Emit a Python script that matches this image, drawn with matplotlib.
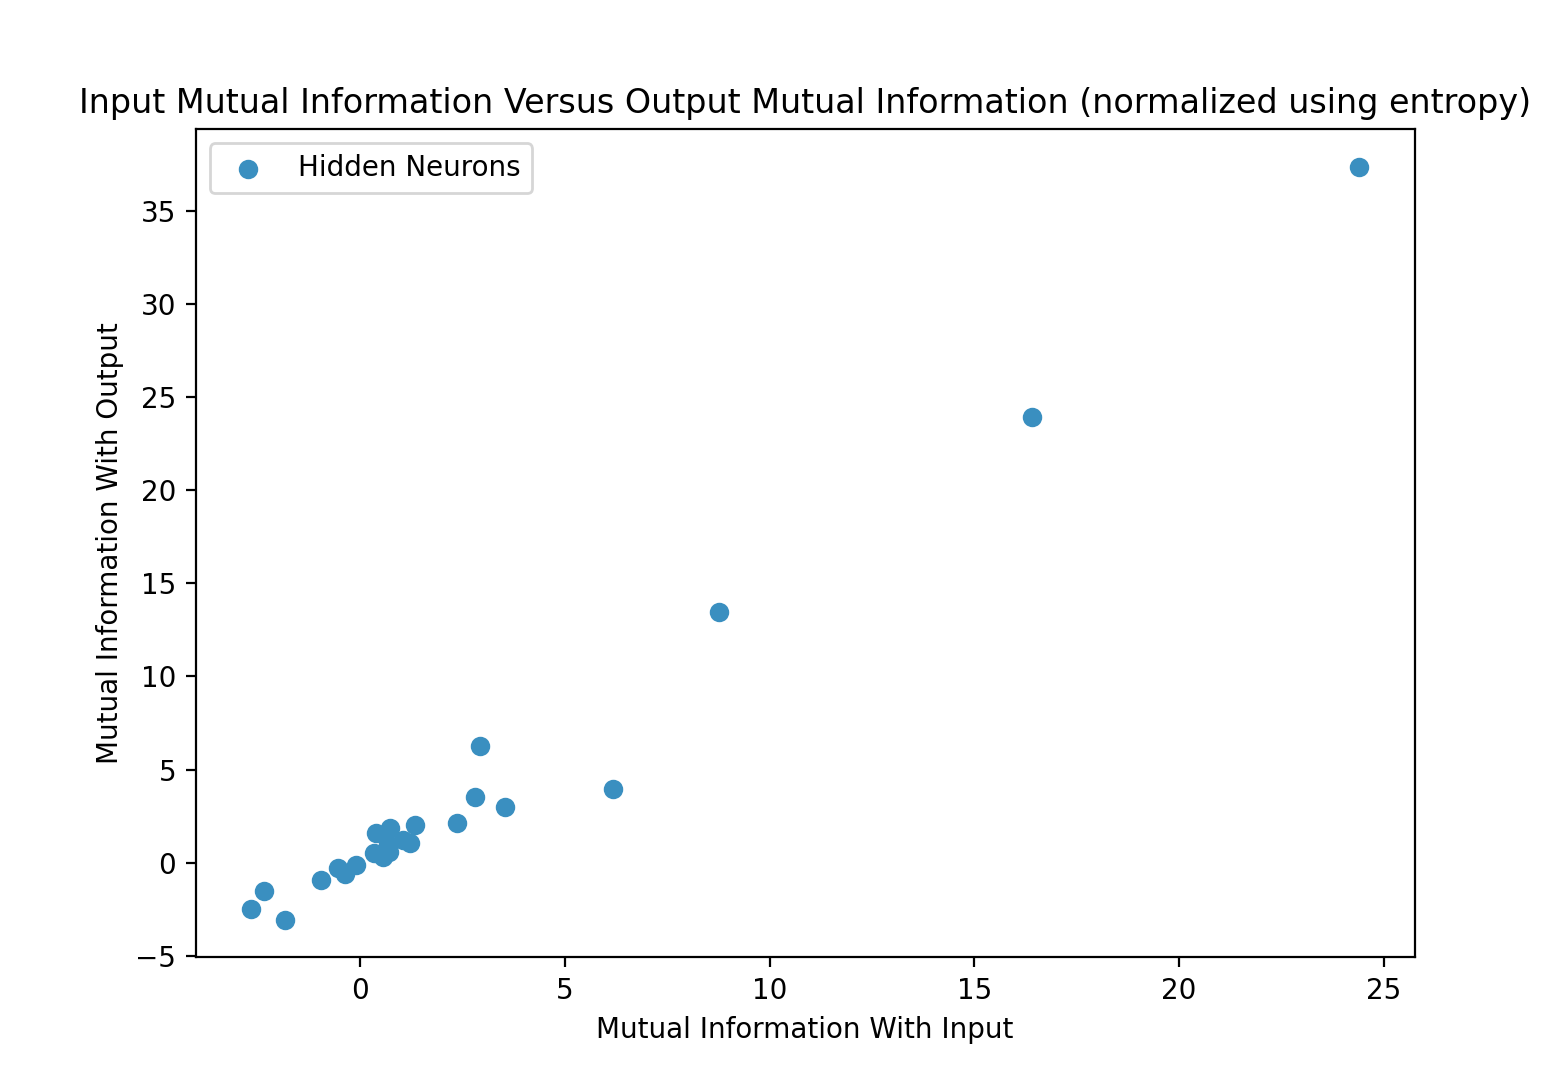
import matplotlib
matplotlib.use("Agg")
import matplotlib.pyplot as plt

# mutual information of each hidden neuron (normalized using entropy)
inputMI = [24.40, 16.40, 8.76, 6.17, 2.93, 2.81, 3.54, 2.37, 1.34, 0.73, 0.39, 1.05,
           1.21, 0.68, 0.35, 0.71, 0.56, -0.09, -0.54, -0.37, -0.95, -2.34, -2.66, -1.83]
outputMI = [37.36, 23.94, 13.47, 3.97, 6.28, 3.54, 3.01, 2.15, 2.01, 1.85, 1.58, 1.21,
            1.07, 1.02, 0.51, 0.59, 0.30, -0.13, -0.30, -0.59, -0.91, -1.50, -2.47, -3.06]

fig = plt.figure(figsize=(7.84, 5.37), dpi=200)
plt.subplots_adjust(left=0.1248, right=0.9022, top=0.8796, bottom=0.1087)
plt.scatter(inputMI, outputMI, color='#3A8FC0', label='Hidden Neurons')
plt.title("Input Mutual Information Versus Output Mutual Information (normalized using entropy)")
plt.xlabel("Mutual Information With Input")
plt.ylabel("Mutual Information With Output")
plt.legend(loc='upper left')
plt.savefig("out.png", dpi=200)
